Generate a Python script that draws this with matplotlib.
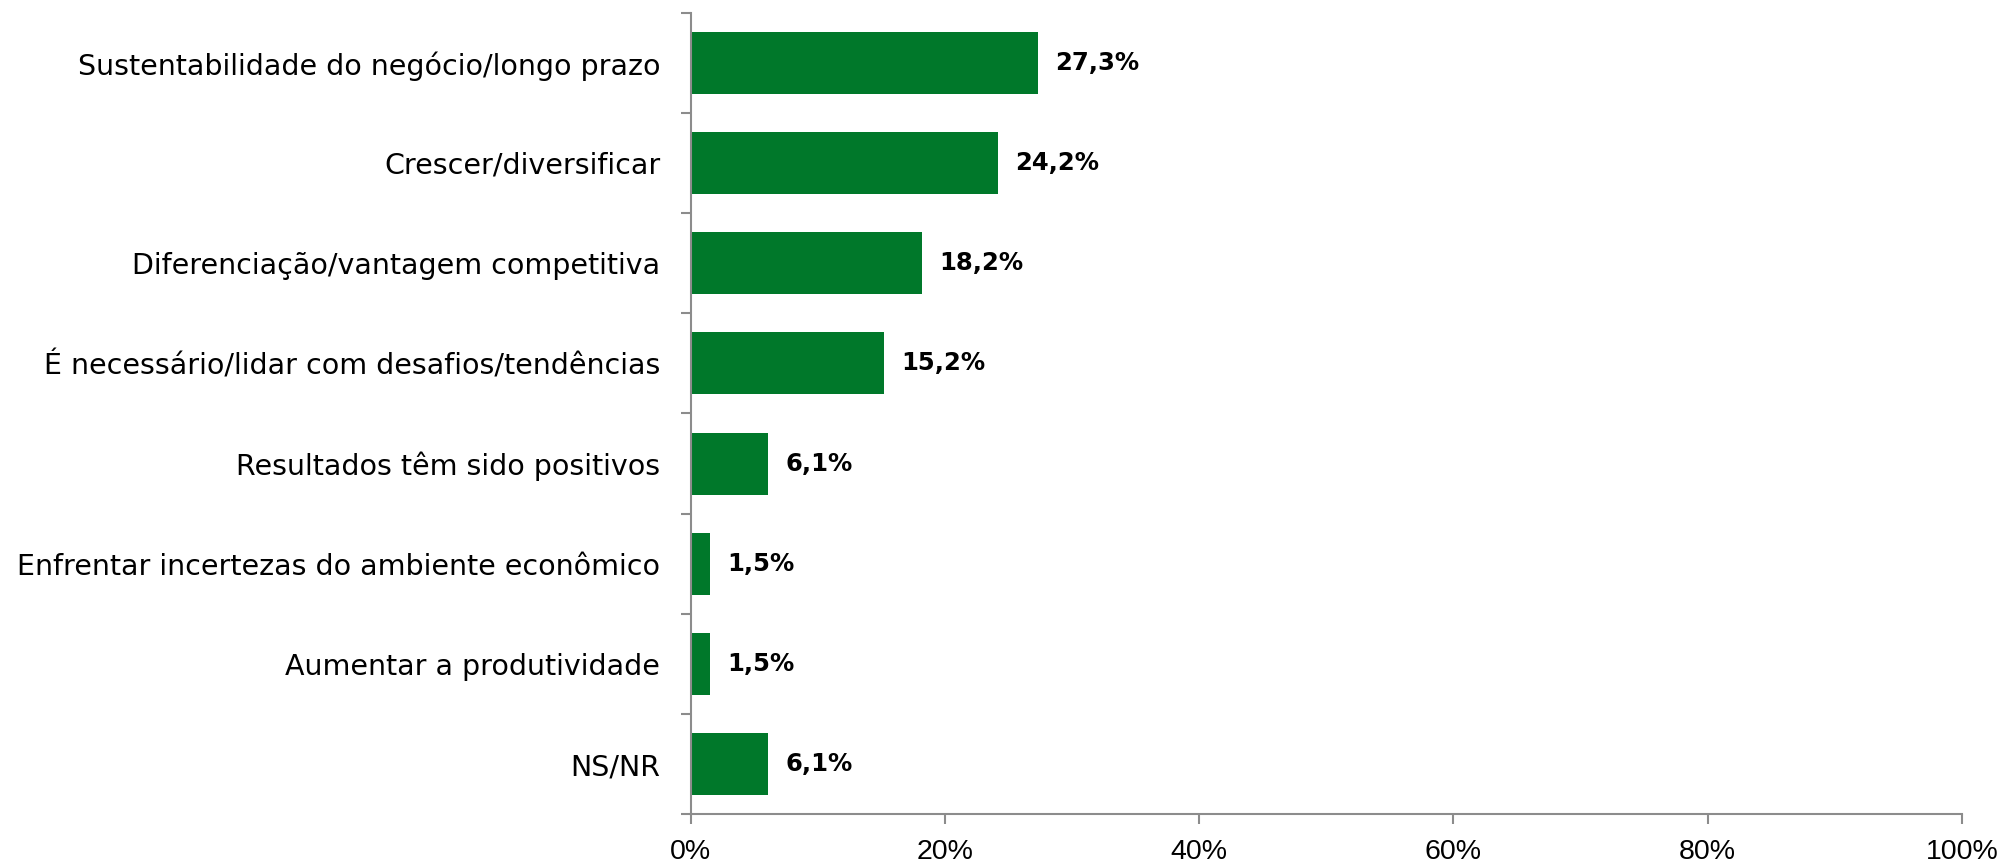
import matplotlib.pyplot as plt
import numpy as np
from matplotlib.ticker import FixedLocator, NullFormatter

categorias = [
    "Sustentabilidade do negócio/longo prazo",
    "Crescer/diversificar",
    "Diferenciação/vantagem competitiva",
    "É necessário/lidar com desafios/tendências",
    "Resultados têm sido positivos",
    "Enfrentar incertezas do ambiente econômico",
    "Aumentar a produtividade",
    "NS/NR",
]
valores = [27.3, 24.2, 18.2, 15.2, 6.1, 1.5, 1.5, 6.1]
x_ticks = [0, 20, 40, 60, 80, 100]

VERDE = "#00782A"
CINZA = "#8C8C8C"

fig = plt.figure(figsize=(20.01, 8.67), dpi=100)
ax = fig.add_axes([0.3452, 0.0608, 0.6353, 0.9246])

n = len(categorias)
y = np.arange(n)[::-1]
ax.barh(y, valores, height=0.62, color=VERDE)

for yi, v in zip(y, valores):
    ax.text(v + 1.35, yi, f"{v:.1f}%".replace(".", ","), va="center", ha="left",
            fontsize=17.5, fontweight="bold", color="black", family="DejaVu Sans")

ax.set_xlim(0, 100)
ax.set_ylim(-0.5, n - 0.5)

# categorias nos centros, ticks nas fronteiras
ax.set_yticks(y)
ax.set_yticklabels(categorias, fontsize=20.5, family="DejaVu Sans")
ax.tick_params(axis="y", which="major", length=0, pad=22)
ax.yaxis.set_minor_locator(FixedLocator(np.arange(-0.5, n, 1.0)))
ax.yaxis.set_minor_formatter(NullFormatter())
ax.tick_params(axis="y", which="minor", length=7, color=CINZA, width=1.5)

ax.set_xticks(x_ticks)
ax.set_xticklabels([f"{t}%" for t in x_ticks], fontsize=20.5, family="Liberation Sans")
ax.tick_params(axis="x", length=7, color=CINZA, width=1.5, pad=11)

for s in ["top", "right"]:
    ax.spines[s].set_visible(False)
for s in ["left", "bottom"]:
    ax.spines[s].set_color(CINZA)
    ax.spines[s].set_linewidth(1.5)

fig.savefig("out.png", dpi=100)
